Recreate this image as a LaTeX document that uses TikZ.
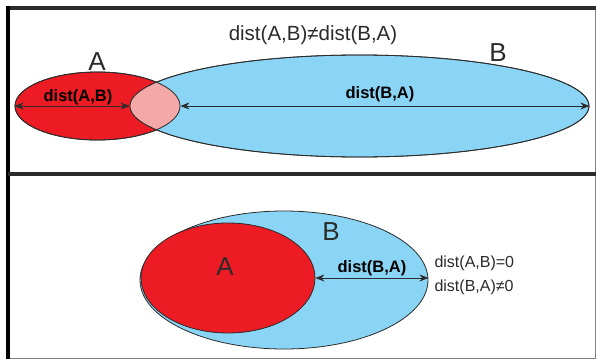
\documentclass[tikz,border=0pt]{standalone}
\usepackage{fontspec}
\setmainfont{Liberation Sans}
\usetikzlibrary{arrows.meta,shapes.geometric}
\definecolor{setred}{HTML}{ED1C24}
\definecolor{setblue}{HTML}{8AD5F5}
\definecolor{lenspink}{HTML}{F4A8A8}
\definecolor{dark}{HTML}{2B2B2B}
\tikzset{
  setshape/.style={ellipse, draw=dark, line width=0.8pt, inner sep=0pt},
  redset/.style={setshape, fill=setred},
  blueset/.style={setshape, fill=setblue},
  outline/.style={ellipse, draw=dark, line width=0.8pt, inner sep=0pt},
  dimarrow/.style={{Stealth[length=9pt,width=7pt]}-{Stealth[length=9pt,width=7pt]}, line width=0.8pt, draw=dark},
  setname/.style={font=\fontsize{26}{28}\selectfont, text=dark},
  distlabel/.style={font=\fontsize{16.5}{18}\selectfont\bfseries, text=black},
  plain/.style={font=\fontsize{16}{18}\selectfont, text=dark}
}
\begin{document}
\begin{tikzpicture}[x=1pt, y=-1pt]
  \useasboundingbox (0,0) rectangle (596,359);
  % frame
  \draw[line width=0.8pt, gray] (8,8) -- (595.5,8) -- (595.5,358.5) -- (8,358.5);
  \draw[line width=3.5pt, dark] (6,8) -- (596,8);
  \draw[line width=4pt, black] (8,6) -- (8,359);
  \draw[line width=4pt, dark] (8,174) -- (596,174);

  % upper panel
  \node[redset, minimum width=165, minimum height=68] (topA) at (97.5,106) {};
  \node[blueset, minimum width=459, minimum height=102] (topB) at (359.5,106) {};
  \begin{scope}
    \clip (97.5,106) ellipse [x radius=82.5pt, y radius=34pt];
    \fill[lenspink] (359.5,106) ellipse [x radius=229.5pt, y radius=51pt];
  \end{scope}
  \node[outline, minimum width=165, minimum height=68] at (topA) {};
  \node[outline, minimum width=459, minimum height=102] at (topB) {};
  \draw[dimarrow] (topA.west) -- (topB.west);
  \draw[dimarrow] (topA.east) -- (topB.east);
  \node[distlabel] (labAB) at (78,97) {dist(A,B)};
  \node[distlabel] (labBA) at (380,94) {dist(B,A)};
  \node[setname] (nameA) at (97,62) {A};
  \node[setname] (nameB) at (498,53) {B};
  \node[font=\fontsize{20.5}{24}\selectfont, text=dark] (ineq) at (313,35) {dist(A,B)≠dist(B,A)};

  % lower panel
  \node[blueset, minimum width=288, minimum height=138] (botB) at (284,280) {};
  \node[redset, minimum width=174, minimum height=110] (botA) at (228,278) {};
  \draw[dimarrow] (botA.east) -- (botA.east -| botB.east);
  \node[distlabel] (labBA2) at (372,268) {dist(B,A)};
  \node[setname] (nameA2) at (225,267) {A};
  \node[setname] (nameB2) at (331,232) {B};
  \node[plain, anchor=west] (eq1) at (431,263) {dist(A,B)=0};
  \node[plain, anchor=west] (eq2) at (431,287) {dist(B,A)≠0};
\end{tikzpicture}
\end{document}
